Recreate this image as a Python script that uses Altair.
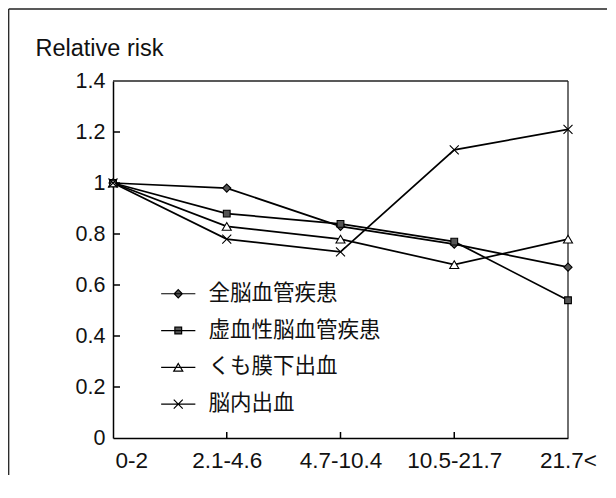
import altair as alt
import pandas as pd

categories = ["0-2", "2.1-4.6", "4.7-10.4", "10.5-21.7", "21.7<"]
series_names = ["全脳血管疾患", "虚血性脳血管疾患", "くも膜下出血", "脳内出血"]
all_cvd = [1.00, 0.98, 0.83, 0.76, 0.67]
ischemic = [1.00, 0.88, 0.84, 0.77, 0.54]
sah = [1.00, 0.83, 0.78, 0.68, 0.78]
ich = [1.00, 0.78, 0.73, 1.13, 1.21]
y_ticks = [0, 0.2, 0.4, 0.6, 0.8, 1.0, 1.2, 1.4]

rows = []
for name, vals in zip(series_names, [all_cvd, ischemic, sah, ich]):
    for c, v in zip(categories, vals):
        rows.append({"exposure": c, "value": v, "series": name})
df = pd.DataFrame(rows)

W, H = 455, 357
PAD_L, PAD_T, PAD_R, PAD_B = 105, 73, 40, 38
TOTAL_W = PAD_L + W + PAD_R
TOTAL_H = PAD_T + H + PAD_B
FONT = "Liberation Sans"
JP = "Noto Sans CJK JP"

marker_paths = [
    "M0,-0.9L0.9,0L0,0.9L-0.9,0Z",
    "M-0.75,-0.75H0.75V0.75H-0.75Z",
    "M0,-0.85L1,0.85L-1,0.85Z",
    "M-1,-1L1,1M-1,1L1,-1",
]
legend_paths = ["M-3.8,0H3.8" + p for p in marker_paths]
fills = ["#555555", "#555555", "white", "white"]
strokes = ["black", "black", "black", "black"]

x_enc = alt.X(
    "exposure:N",
    scale=alt.Scale(type="point", padding=0, domain=categories),
    axis=alt.Axis(
        title=None, labelAngle=0, ticks=False, grid=False,
        labelFont=FONT, labelFontSize=22.5, labelColor="#111", labelPadding=22,
        labelAlign={"expr": "datum.value == '0-2' ? 'left' : 'center'"},
        labelOffset={"expr": "datum.value == '0-2' ? 2 : 0"},
        domainColor="black", domainWidth=1.5,
    ),
)
y_enc = alt.Y(
    "value:Q",
    scale=alt.Scale(domain=[0, 1.4], nice=False),
    axis=alt.Axis(
        title="Relative risk", titleAngle=0, titleX=-78, titleY=-26,
        titleAlign="left", titleBaseline="alphabetic", titleFont=FONT,
        titleFontSize=23.5, titleFontWeight="normal", titleColor="#111",
        values=y_ticks, format="~g", ticks=False, grid=False,
        labelFont=FONT, labelFontSize=21.5, labelColor="#111", labelPadding=8,
        domainColor="black", domainWidth=1.5,
    ),
)

base = alt.Chart(df)
one = pd.DataFrame({"k": [0]})

def rule(**enc):
    return alt.Chart(one).mark_rule(color="#222", strokeWidth=1.3).encode(**enc)

border_left = rule(x=alt.value(-PAD_L + 0.7), y=alt.value(-PAD_T + 1), y2=alt.value(TOTAL_H - PAD_T - 1))
border_top = rule(x=alt.value(-PAD_L + 0.7), x2=alt.value(TOTAL_W - PAD_L - 1), y=alt.value(-PAD_T + 1))
frame_top = rule(x=alt.value(0), x2=alt.value(W), y=alt.value(0))
frame_right = rule(x=alt.value(W), y=alt.value(0), y2=alt.value(H))

xt = alt.Chart(pd.DataFrame({"exposure": categories[1:4]})).mark_rule(
    color="black", strokeWidth=1.5
).encode(x=alt.X("exposure:N"), y=alt.value(H - 6), y2=alt.value(H))

yt = alt.Chart(pd.DataFrame({"value": y_ticks[1:-1]})).mark_rule(
    color="black", strokeWidth=1.5
).encode(y=alt.Y("value:Q"), x=alt.value(0), x2=alt.value(7))

lines = base.mark_line(color="black", strokeWidth=1.7).encode(
    x=x_enc, y=y_enc, detail="series:N"
)

points = base.mark_point(filled=True, stroke="black", strokeWidth=1.1, size=81, opacity=1).encode(
    x="exposure:N",
    y="value:Q",
    shape=alt.Shape("series:N", scale=alt.Scale(domain=series_names, range=marker_paths), legend=None),
    fill=alt.Fill("series:N", scale=alt.Scale(domain=series_names, range=fills), legend=None),
)

leg = dict(title=None, orient="none", legendX=54.5, legendY=202, padding=0,
           labelFont=JP, labelFontSize=21.5, labelColor="#111", labelOffset=19.5,
           rowPadding=13.8, labelLimit=400, symbolSize=81, symbolStrokeWidth=1.2)

legend_layer = base.transform_filter("false").mark_point(
    filled=True, strokeWidth=1.2, size=81, opacity=1
).encode(
    x="exposure:N",
    y="value:Q",
    shape=alt.Shape("series:N", scale=alt.Scale(domain=series_names, range=legend_paths),
                    legend=alt.Legend(**leg)),
    fill=alt.Fill("series:N", scale=alt.Scale(domain=series_names, range=fills),
                  legend=alt.Legend(**leg)),
    stroke=alt.Stroke("series:N", scale=alt.Scale(domain=series_names, range=strokes),
                      legend=alt.Legend(**leg)),
)

chart = alt.layer(border_left, border_top, frame_top, frame_right, xt, yt, lines, points,
                  legend_layer).resolve_scale(
    shape="independent", fill="independent", stroke="independent"
).properties(
    width=W, height=H,
    padding={"left": PAD_L, "top": PAD_T, "right": PAD_R, "bottom": PAD_B},
    autosize=alt.AutoSizeParams(type="none"),
    background="white",
).configure_view(stroke="transparent", strokeWidth=0)

chart.save("out.html", embed_options={"renderer": "svg", "actions": False})
